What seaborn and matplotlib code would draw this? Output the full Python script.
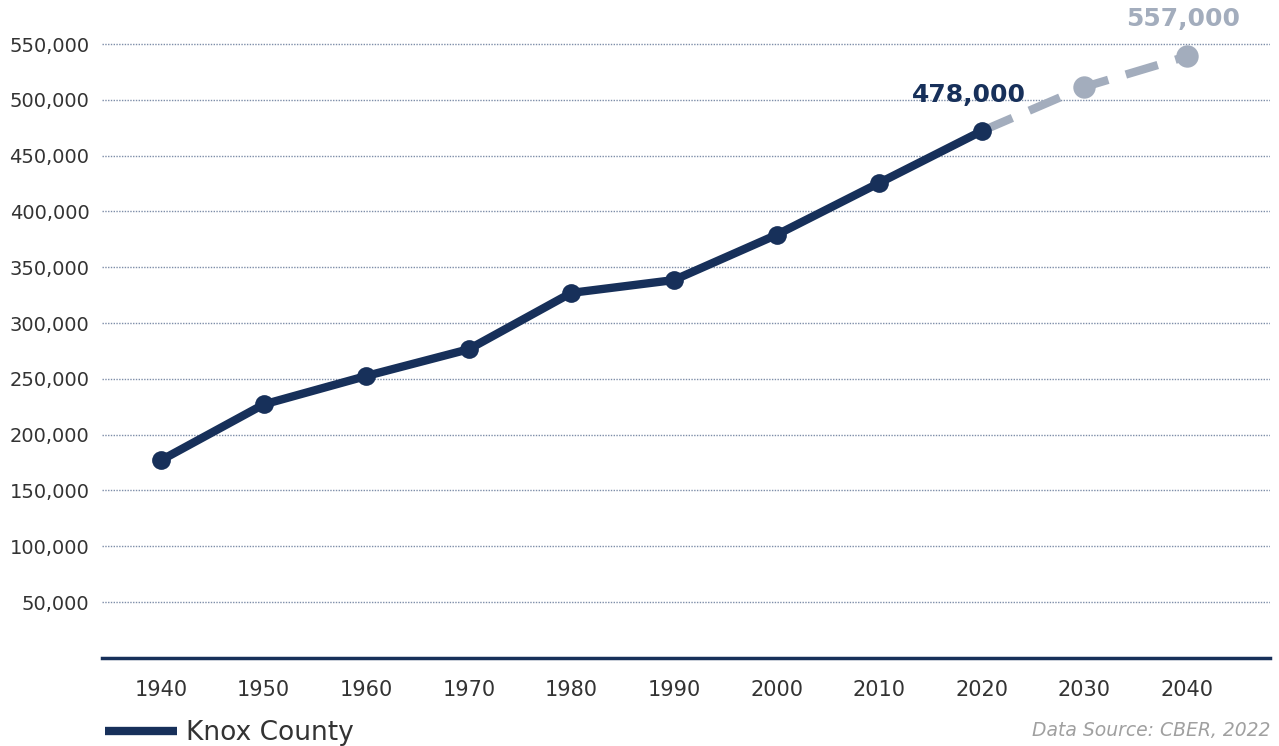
import pandas as pd
import seaborn as sns
import matplotlib.pyplot as plt
from matplotlib.lines import Line2D

# Knox County population
years_hist = [1940, 1950, 1960, 1970, 1980, 1990, 2000, 2010, 2020]
pop_hist = [177000, 227000, 252500, 276500, 327000, 338500, 379000, 425500, 472000]
years_proj = [2020, 2030, 2040]
pop_proj = [472000, 511500, 539000]
label_2020 = "478,000"
label_2040 = "557,000"
y_ticks = [50000, 100000, 150000, 200000, 250000, 300000, 350000,
           400000, 450000, 500000, 550000]

NAVY = "#17305a"
GRAY = "#a3adbd"

hist_df = pd.DataFrame({"year": years_hist, "pop": pop_hist})
proj_df = pd.DataFrame({"year": years_proj, "pop": pop_proj})

sns.set_style("white")
plt.rcParams["font.family"] = ["DejaVu Sans"]

fig = plt.figure(figsize=(12.79, 7.46), dpi=100)
ax = fig.add_axes([102 / 1279, 1 - 657.8 / 746, 1168 / 1279, (657.8 - 21.7) / 746])

for y in y_ticks:
    ax.axhline(y, color="#7d8da8", linestyle=(0, (1, 1)), linewidth=1.0, zorder=1)

sns.lineplot(data=proj_df, x="year", y="pop", ax=ax, color=GRAY, linewidth=6,
             dashes=False, zorder=2)
ax.lines[-1].set_linestyle((0, (4.0, 2.2)))
ax.lines[-1].set_dash_capstyle("butt")
sns.scatterplot(data=proj_df.iloc[1:], x="year", y="pop", ax=ax, color=GRAY,
                s=260, linewidth=0, zorder=3)
sns.lineplot(data=hist_df, x="year", y="pop", ax=ax, color=NAVY, linewidth=6,
             marker="o", markersize=13.5, markeredgewidth=0, zorder=4)

ax.text(2020 - 1.2, 494000, label_2020, color=NAVY, fontsize=18, fontweight="bold",
        ha="center", va="bottom")
ax.text(2040 - 0.4, 562000, label_2040, color=GRAY, fontsize=18, fontweight="bold",
        ha="center", va="bottom", clip_on=False)

ax.set_xlim(1940 - 5.75, 2040 + 8.1)
ax.set_ylim(0, 570000)
ax.set_xticks(years_hist + years_proj[1:])
ax.set_yticks(y_ticks)
ax.set_yticklabels([f"{v:,}" for v in y_ticks])
ax.tick_params(axis="y", length=0, labelsize=14, colors="#333333", pad=9)
ax.tick_params(axis="x", length=0, labelsize=15, colors="#333333", pad=16)
ax.set_xlabel("")
ax.set_ylabel("")

for side in ["top", "right", "left"]:
    ax.spines[side].set_visible(False)
ax.spines["bottom"].set_color(NAVY)
ax.spines["bottom"].set_linewidth(2.5)

handle = Line2D([0], [0], color=NAVY, linewidth=6, solid_capstyle="butt")
fig.legend([handle], ["Knox County"], loc="center left",
           bbox_to_anchor=(94 / 1279, 1 - 733 / 746), frameon=False,
           fontsize=19, handlelength=2.75, handletextpad=0.35, labelcolor="#333333",
           borderaxespad=0, borderpad=0.4)

fig.text(1270 / 1279, 1 - 731 / 746, "Data Source: CBER, 2022", ha="right",
         va="center", fontsize=13.5, style="italic", color="#a0a0a0")

fig.savefig("out.png", dpi=100)
